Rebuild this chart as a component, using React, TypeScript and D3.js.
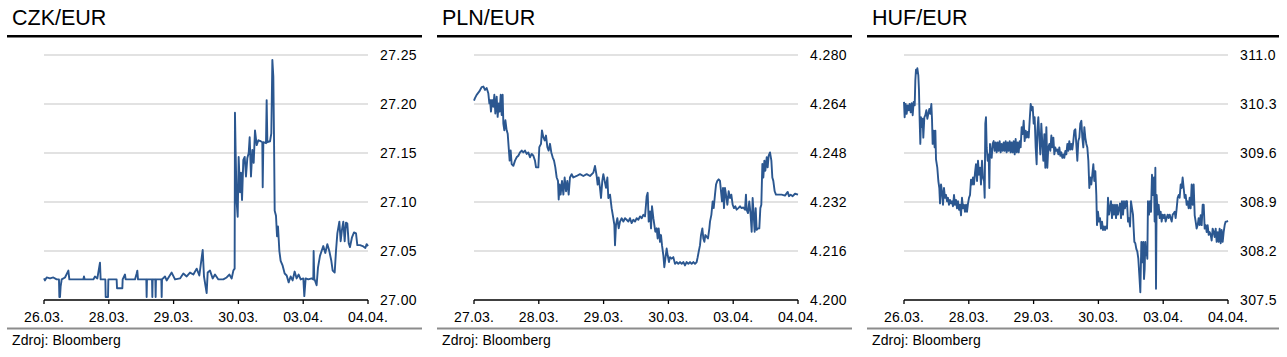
import React from 'react';
import * as d3 from 'd3';

const czkTitle = 'CZK/EUR';
const plnTitle = 'PLN/EUR';
const hufTitle = 'HUF/EUR';
const sourceText = 'Zdroj: Bloomberg';

const czkXLabels = ['26.03.', '28.03.', '29.03.', '30.03.', '03.04.', '04.04.'];
const plnXLabels = ['27.03.', '28.03.', '29.03.', '30.03.', '03.04.', '04.04.'];
const hufXLabels = ['26.03.', '28.03.', '29.03.', '30.03.', '03.04.', '04.04.'];

const czkYTicks = [27.0, 27.05, 27.1, 27.15, 27.2, 27.25];
const plnYTicks = [4.2, 4.216, 4.232, 4.248, 4.264, 4.28];
const hufYTicks = [307.5, 308.2, 308.9, 309.6, 310.3, 311.0];

// [time in trading days from window start, rate]
const czkSeries: [number, number][] = [[0,27.022],[0.015,27.020],[0.041,27.023],[0.093,27.022],[0.144,27.023],[0.195,27.021],[0.231,27.021],[0.237,27.003],[0.247,27.003],[0.257,27.014],[0.273,27.021],[0.324,27.023],[0.376,27.030],[0.391,27.021],[0.607,27.021],[0.617,27.024],[0.628,27.021],[0.761,27.021],[0.787,27.024],[0.823,27.022],[0.864,27.038],[0.874,27.021],[0.947,27.021],[0.952,27.003],[0.988,27.003],[0.993,27.021],[1.121,27.021],[1.127,27.012],[1.209,27.012],[1.214,27.021],[1.250,27.026],[1.260,27.021],[1.404,27.021],[1.430,27.027],[1.440,27.030],[1.451,27.021],[1.579,27.021],[1.584,27.003],[1.589,27.021],[1.667,27.021],[1.672,27.003],[1.677,27.021],[1.718,27.021],[1.723,27.003],[1.728,27.021],[1.811,27.021],[1.816,27.003],[1.821,27.021],[1.867,27.024],[1.893,27.020],[1.970,27.028],[2.022,27.021],[2.099,27.022],[2.150,27.027],[2.202,27.024],[2.253,27.028],[2.305,27.026],[2.356,27.032],[2.397,27.025],[2.449,27.051],[2.469,27.024],[2.510,27.007],[2.526,27.028],[2.562,27.030],[2.603,27.022],[2.639,27.026],[2.691,27.021],[2.767,27.021],[2.819,27.023],[2.860,27.026],[2.896,27.022],[2.922,27.030],[2.942,27.032],[2.947,27.191],[2.958,27.149],[2.973,27.100],[2.989,27.085],[3.004,27.146],[3.025,27.110],[3.040,27.130],[3.056,27.102],[3.076,27.143],[3.097,27.146],[3.117,27.126],[3.138,27.145],[3.159,27.150],[3.174,27.166],[3.194,27.126],[3.215,27.153],[3.236,27.140],[3.256,27.173],[3.282,27.158],[3.308,27.163],[3.344,27.162],[3.369,27.161],[3.375,27.115],[3.385,27.161],[3.426,27.160],[3.436,27.204],[3.447,27.161],[3.488,27.162],[3.508,27.170],[3.524,27.245],[3.539,27.228],[3.549,27.170],[3.560,27.091],[3.580,27.086],[3.596,27.065],[3.611,27.075],[3.632,27.050],[3.652,27.040],[3.683,27.035],[3.714,27.027],[3.745,27.025],[3.776,27.018],[3.806,27.024],[3.837,27.020],[3.868,27.029],[3.899,27.022],[3.930,27.026],[3.961,27.021],[4.002,27.022],[4.017,27.004],[4.038,27.022],[4.079,27.021],[4.130,27.022],[4.156,27.021],[4.161,27.050],[4.171,27.022],[4.207,27.015],[4.228,27.033],[4.259,27.045],[4.284,27.050],[4.310,27.055],[4.341,27.048],[4.372,27.057],[4.403,27.050],[4.434,27.040],[4.455,27.030],[4.486,27.028],[4.506,27.050],[4.527,27.068],[4.558,27.080],[4.578,27.060],[4.599,27.072],[4.619,27.080],[4.640,27.060],[4.660,27.079],[4.681,27.078],[4.702,27.058],[4.722,27.054],[4.753,27.064],[4.784,27.069],[4.815,27.068],[4.835,27.056],[4.877,27.056],[4.918,27.055],[4.959,27.053],[4.979,27.057],[5,27.055]];

const plnSeries: [number, number][] = [[0,4.2651],[0.015,4.2659],[0.041,4.2670],[0.082,4.2681],[0.118,4.2695],[0.144,4.2697],[0.170,4.2686],[0.195,4.2692],[0.221,4.2675],[0.237,4.2642],[0.247,4.2653],[0.262,4.2615],[0.278,4.2653],[0.298,4.2631],[0.314,4.2670],[0.329,4.2609],[0.350,4.2664],[0.365,4.2598],[0.381,4.2642],[0.396,4.2615],[0.412,4.2670],[0.427,4.2604],[0.442,4.2670],[0.453,4.2576],[0.468,4.2554],[0.484,4.2587],[0.504,4.2554],[0.520,4.2543],[0.535,4.2499],[0.550,4.2455],[0.566,4.2488],[0.581,4.2444],[0.607,4.2438],[0.633,4.2455],[0.658,4.2466],[0.684,4.2471],[0.710,4.2482],[0.736,4.2488],[0.761,4.2482],[0.787,4.2488],[0.813,4.2477],[0.838,4.2482],[0.864,4.2466],[0.890,4.2477],[0.916,4.2471],[0.941,4.2455],[0.957,4.2433],[0.993,4.2433],[1.008,4.2499],[1.034,4.2510],[1.049,4.2554],[1.070,4.2532],[1.091,4.2521],[1.111,4.2537],[1.132,4.2499],[1.152,4.2488],[1.173,4.2510],[1.193,4.2482],[1.214,4.2466],[1.235,4.2455],[1.255,4.2433],[1.276,4.2400],[1.296,4.2389],[1.307,4.2328],[1.322,4.2377],[1.337,4.2344],[1.358,4.2389],[1.379,4.2344],[1.399,4.2400],[1.420,4.2355],[1.440,4.2389],[1.461,4.2344],[1.481,4.2400],[1.507,4.2411],[1.533,4.2400],[1.584,4.2405],[1.636,4.2411],[1.687,4.2405],[1.739,4.2411],[1.790,4.2405],[1.842,4.2416],[1.867,4.2438],[1.893,4.2405],[1.908,4.2377],[1.924,4.2400],[1.944,4.2366],[1.960,4.2333],[1.980,4.2389],[1.996,4.2411],[2.016,4.2389],[2.037,4.2366],[2.058,4.2400],[2.073,4.2333],[2.099,4.2344],[2.124,4.2300],[2.150,4.2267],[2.166,4.2245],[2.176,4.2179],[2.191,4.2245],[2.212,4.2267],[2.233,4.2234],[2.253,4.2256],[2.279,4.2267],[2.305,4.2256],[2.330,4.2267],[2.356,4.2262],[2.382,4.2256],[2.407,4.2267],[2.433,4.2251],[2.459,4.2262],[2.485,4.2256],[2.510,4.2267],[2.536,4.2262],[2.562,4.2273],[2.587,4.2267],[2.613,4.2278],[2.639,4.2273],[2.654,4.2311],[2.665,4.2339],[2.680,4.2350],[2.696,4.2256],[2.716,4.2289],[2.732,4.2234],[2.747,4.2306],[2.768,4.2267],[2.783,4.2245],[2.798,4.2223],[2.819,4.2234],[2.834,4.2201],[2.850,4.2234],[2.870,4.2190],[2.886,4.2212],[2.901,4.2179],[2.922,4.2146],[2.937,4.2107],[2.953,4.2135],[2.973,4.2168],[2.989,4.2146],[3.009,4.2124],[3.025,4.2140],[3.050,4.2135],[3.076,4.2140],[3.102,4.2118],[3.128,4.2124],[3.153,4.2118],[3.179,4.2124],[3.205,4.2118],[3.230,4.2124],[3.256,4.2113],[3.282,4.2124],[3.308,4.2118],[3.333,4.2124],[3.359,4.2118],[3.385,4.2124],[3.411,4.2118],[3.436,4.2124],[3.452,4.2140],[3.467,4.2157],[3.488,4.2179],[3.503,4.2212],[3.524,4.2234],[3.539,4.2201],[3.555,4.2190],[3.570,4.2212],[3.590,4.2207],[3.611,4.2201],[3.632,4.2234],[3.642,4.2256],[3.663,4.2278],[3.683,4.2322],[3.699,4.2300],[3.719,4.2344],[3.735,4.2377],[3.755,4.2389],[3.776,4.2394],[3.796,4.2389],[3.812,4.2355],[3.827,4.2322],[3.843,4.2366],[3.858,4.2300],[3.873,4.2366],[3.889,4.2344],[3.910,4.2311],[3.930,4.2355],[3.951,4.2333],[3.971,4.2344],[3.992,4.2311],[4.012,4.2300],[4.033,4.2306],[4.053,4.2295],[4.079,4.2300],[4.105,4.2306],[4.130,4.2300],[4.156,4.2302],[4.182,4.2295],[4.197,4.2344],[4.207,4.2295],[4.228,4.2284],[4.248,4.2322],[4.269,4.2278],[4.285,4.2223],[4.300,4.2333],[4.316,4.2278],[4.331,4.2223],[4.347,4.2300],[4.362,4.2229],[4.383,4.2234],[4.403,4.2234],[4.419,4.2300],[4.434,4.2311],[4.450,4.2444],[4.465,4.2400],[4.481,4.2455],[4.496,4.2422],[4.517,4.2466],[4.532,4.2433],[4.547,4.2471],[4.568,4.2482],[4.589,4.2455],[4.604,4.2400],[4.619,4.2389],[4.640,4.2355],[4.660,4.2344],[4.696,4.2344],[4.748,4.2344],[4.799,4.2341],[4.841,4.2353],[4.861,4.2339],[4.887,4.2344],[4.918,4.2339],[4.954,4.2347],[5,4.2344]];

const hufSeries: [number, number][] = [[0,310.33],[0.010,310.11],[0.026,310.30],[0.041,310.16],[0.057,310.28],[0.072,310.21],[0.087,310.30],[0.103,310.18],[0.118,310.31],[0.134,310.14],[0.149,310.33],[0.165,310.28],[0.175,310.64],[0.185,310.79],[0.195,310.74],[0.206,310.81],[0.221,310.71],[0.231,310.50],[0.242,310.06],[0.252,309.73],[0.262,310.11],[0.278,309.97],[0.288,310.09],[0.298,309.82],[0.314,310.11],[0.329,310.14],[0.345,310.21],[0.360,310.09],[0.376,310.16],[0.391,310.23],[0.406,310.16],[0.422,310.30],[0.432,310.09],[0.442,309.73],[0.458,309.92],[0.473,309.68],[0.484,309.92],[0.494,309.51],[0.514,309.39],[0.530,309.20],[0.545,309.10],[0.556,308.88],[0.571,309.15],[0.586,309.05],[0.602,308.86],[0.617,309.10],[0.633,308.96],[0.648,309.00],[0.664,308.91],[0.679,308.96],[0.694,308.86],[0.710,308.93],[0.725,308.88],[0.741,308.91],[0.756,308.84],[0.772,309.00],[0.787,308.86],[0.802,308.93],[0.818,308.81],[0.833,308.91],[0.849,308.79],[0.864,308.86],[0.880,308.71],[0.895,308.96],[0.910,308.81],[0.926,308.86],[0.941,308.76],[0.957,308.86],[0.972,308.76],[0.988,308.88],[1.003,308.96],[1.019,309.00],[1.034,309.22],[1.049,309.15],[1.065,309.25],[1.080,309.15],[1.096,309.32],[1.111,309.44],[1.127,309.20],[1.142,309.49],[1.157,309.29],[1.173,309.39],[1.188,309.15],[1.204,309.49],[1.219,309.25],[1.235,309.20],[1.245,308.96],[1.255,310.02],[1.265,310.11],[1.276,309.68],[1.291,309.49],[1.307,309.58],[1.317,309.10],[1.327,309.73],[1.337,309.63],[1.353,309.53],[1.368,309.73],[1.384,309.77],[1.399,309.63],[1.415,309.75],[1.430,309.61],[1.445,309.75],[1.461,309.63],[1.476,309.77],[1.492,309.61],[1.507,309.73],[1.523,309.63],[1.538,309.75],[1.553,309.63],[1.569,309.77],[1.584,309.61],[1.600,309.75],[1.615,309.63],[1.631,309.77],[1.646,309.61],[1.661,309.75],[1.677,309.61],[1.692,309.77],[1.708,309.58],[1.723,309.80],[1.739,309.61],[1.754,309.75],[1.770,309.61],[1.785,309.77],[1.800,309.68],[1.816,309.97],[1.831,309.87],[1.847,310.06],[1.862,309.77],[1.878,309.92],[1.893,309.82],[1.908,309.90],[1.924,309.82],[1.939,310.06],[1.955,310.30],[1.970,310.21],[1.986,310.26],[2.001,310.02],[2.016,310.11],[2.032,309.68],[2.047,309.44],[2.058,309.92],[2.073,310.11],[2.088,309.82],[2.104,309.58],[2.119,310.02],[2.135,309.73],[2.150,309.49],[2.166,309.87],[2.181,309.39],[2.197,309.97],[2.212,309.39],[2.227,309.68],[2.243,309.73],[2.258,309.63],[2.274,309.85],[2.289,309.68],[2.305,309.82],[2.320,309.58],[2.335,309.68],[2.351,309.63],[2.366,309.65],[2.382,309.58],[2.397,309.68],[2.413,309.56],[2.428,309.61],[2.443,309.53],[2.459,309.58],[2.474,309.53],[2.490,309.63],[2.505,309.58],[2.521,309.73],[2.536,309.63],[2.551,309.77],[2.567,309.65],[2.582,309.73],[2.598,309.65],[2.613,309.77],[2.629,309.92],[2.644,309.94],[2.659,309.73],[2.675,309.49],[2.690,309.77],[2.706,309.82],[2.721,310.02],[2.737,310.06],[2.752,309.82],[2.767,309.68],[2.783,309.97],[2.798,309.82],[2.814,309.73],[2.829,309.68],[2.845,309.49],[2.860,309.10],[2.875,309.25],[2.891,309.15],[2.906,309.29],[2.922,309.44],[2.937,309.20],[2.953,309.34],[2.968,309.00],[2.978,308.57],[2.994,308.76],[3.009,308.62],[3.025,308.67],[3.040,308.52],[3.056,308.62],[3.071,308.50],[3.086,308.55],[3.102,308.50],[3.117,308.55],[3.133,308.52],[3.148,308.96],[3.164,308.72],[3.179,308.81],[3.194,308.91],[3.210,308.67],[3.225,308.86],[3.241,308.72],[3.256,308.86],[3.272,308.67],[3.287,308.86],[3.302,308.72],[3.318,308.81],[3.333,308.88],[3.349,308.67],[3.364,308.91],[3.380,308.72],[3.395,308.91],[3.410,308.81],[3.426,308.91],[3.441,308.91],[3.457,308.62],[3.472,308.67],[3.488,308.55],[3.503,308.91],[3.519,308.81],[3.534,308.72],[3.544,308.52],[3.555,308.33],[3.570,308.31],[3.585,308.23],[3.601,308.19],[3.616,308.09],[3.632,307.85],[3.647,307.61],[3.663,308.33],[3.678,308.04],[3.693,308.33],[3.704,307.80],[3.714,307.94],[3.724,308.33],[3.735,308.14],[3.745,308.23],[3.755,308.09],[3.765,308.91],[3.781,308.72],[3.796,308.91],[3.812,308.76],[3.827,309.29],[3.843,309.00],[3.858,309.25],[3.868,308.62],[3.879,309.39],[3.889,307.66],[3.899,309.00],[3.915,308.72],[3.930,308.86],[3.946,308.67],[3.961,308.76],[3.976,308.62],[3.992,308.72],[4.007,308.67],[4.023,308.72],[4.038,308.62],[4.053,308.67],[4.069,308.72],[4.084,308.67],[4.100,308.72],[4.115,308.67],[4.131,308.62],[4.146,308.72],[4.162,308.74],[4.177,308.76],[4.192,308.67],[4.208,308.81],[4.223,308.96],[4.239,309.00],[4.254,308.96],[4.270,309.15],[4.285,309.10],[4.300,309.25],[4.316,309.10],[4.331,308.96],[4.347,309.00],[4.362,308.86],[4.377,308.91],[4.393,308.81],[4.408,308.96],[4.424,308.81],[4.439,309.15],[4.455,308.86],[4.470,309.15],[4.486,308.71],[4.501,308.62],[4.516,308.52],[4.532,308.57],[4.547,308.67],[4.563,308.57],[4.578,308.71],[4.594,308.57],[4.609,308.86],[4.625,308.86],[4.640,308.52],[4.655,308.57],[4.671,308.47],[4.686,308.57],[4.702,308.43],[4.717,308.47],[4.733,308.43],[4.748,308.35],[4.763,308.52],[4.779,308.47],[4.794,308.40],[4.810,308.52],[4.825,308.33],[4.841,308.47],[4.856,308.33],[4.871,308.52],[4.887,308.31],[4.902,308.50],[4.918,308.33],[4.933,308.47],[4.949,308.57],[4.964,308.62],[4.979,308.62],[5,308.63]];

const FONT = "'Liberation Sans', Arial, Helvetica, sans-serif";
const LINE_COLOR = '#2b5790';

type PanelProps = {
  ox: number;
  width: number;
  title: string;
  series: [number, number][];
  yTicks: number[];
  decimals: number;
  xLabels: string[];
};

function Panel({ ox, width, title, series, yTicks, decimals, xLabels }: PanelProps) {
  const left = 44;
  const right = 368;
  const top = 55;
  const bottom = 300;
  const x = d3.scaleLinear().domain([0, xLabels.length - 1]).range([left, right]);
  const y = d3
    .scaleLinear()
    .domain([yTicks[0], yTicks[yTicks.length - 1]])
    .range([bottom, top]);
  const line = d3
    .line<[number, number]>()
    .x((d) => x(d[0]))
    .y((d) => y(d[1]));
  const fmt = d3.format(`.${decimals}f`);
  return (
    <g transform={`translate(${ox},0)`} fontFamily={FONT}>
      <text x={12} y={25} fontSize={21.5} fill="#000">
        {title}
      </text>
      <line x1={7} x2={7 + width} y1={36.2} y2={36.2} stroke="#000" strokeWidth={2.6} />
      {yTicks.slice(1).map((t) => (
        <line key={t} x1={left} x2={right} y1={y(t)} y2={y(t)} stroke="#d9d9d9" strokeWidth={1.4} />
      ))}
      {yTicks.map((t) => (
        <text key={`l${t}`} x={380} y={y(t) + 5} fontSize={14} fill="#000" letterSpacing={0.4}>
          {fmt(t)}
        </text>
      ))}
      <path d={line(series) || ''} fill="none" stroke={LINE_COLOR} strokeWidth={1.9} strokeLinejoin="round" />
      <line x1={left} x2={right} y1={bottom} y2={bottom} stroke="#000" strokeWidth={1.5} />
      {xLabels.map((lab, i) => (
        <g key={lab}>
          <line x1={x(i)} x2={x(i)} y1={bottom} y2={bottom + 4} stroke="#000" strokeWidth={1.3} />
          <text x={x(i)} y={322} fontSize={14} textAnchor="middle" fill="#000" letterSpacing={0.2}>
            {lab}
          </text>
        </g>
      ))}
      <line x1={7} x2={7 + width} y1={328.5} y2={328.5} stroke="#8c8c8c" strokeWidth={2} />
      <text x={12} y={345} fontSize={14} fill="#000" letterSpacing={0.1}>
        {sourceText}
      </text>
    </g>
  );
}

export default function App() {
  return (
    <svg
      width={1287}
      height={357}
      style={{ position: 'absolute', left: 0, top: 0, background: '#fff' }}
    >
      <rect width={1287} height={357} fill="#fff" />
      <Panel ox={0} width={415} title={czkTitle} series={czkSeries} yTicks={czkYTicks} decimals={2} xLabels={czkXLabels} />
      <Panel ox={430} width={415} title={plnTitle} series={plnSeries} yTicks={plnYTicks} decimals={3} xLabels={plnXLabels} />
      <Panel ox={860} width={412} title={hufTitle} series={hufSeries} yTicks={hufYTicks} decimals={1} xLabels={hufXLabels} />
    </svg>
  );
}
